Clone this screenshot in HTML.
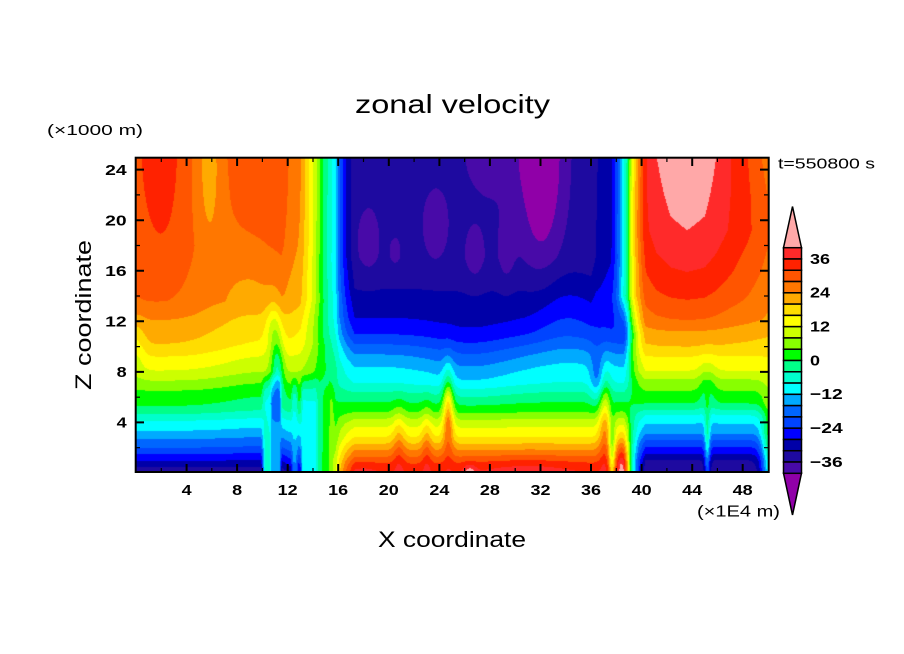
<!DOCTYPE html>
<html><head><meta charset="utf-8">
<style>
html,body{margin:0;padding:0;background:#fff;}
#wrap{position:relative;width:904px;height:654px;overflow:hidden;background:#fff;}
#c{position:absolute;left:136px;top:157px;}
svg{position:absolute;left:0;top:0;}
text{font-family:"Liberation Sans",Arial,sans-serif;fill:#000;}
.b{font-weight:bold;}
</style></head><body>
<div id="wrap">
<canvas id="c" width="632" height="316"></canvas>
<svg width="904" height="654" viewBox="0 0 904 654">
<rect x="135.7" y="157.7" width="633" height="314.3" fill="none" stroke="#000" stroke-width="2"/>
<path stroke="#000" stroke-width="2" fill="none" d="
M186.6 472V464M237.1 472V464M287.7 472V464M338.2 472V464M388.8 472V464M439.4 472V464M489.9 472V464M540.5 472V464M591 472V464M641.6 472V464M692.2 472V464M742.7 472V464
M186.6 158V166M237.1 158V166M287.7 158V166M338.2 158V166M388.8 158V166M439.4 158V166M489.9 158V166M540.5 158V166M591 158V166M641.6 158V166M692.2 158V166M742.7 158V166
M136 422.4H144M136 371.9H144M136 321.3H144M136 270.8H144M136 220.2H144M136 169.6H144
M768 422.4H760M768 371.9H760M768 321.3H760M768 270.8H760M768 220.2H760M768 169.6H760"/>
<path stroke="#000" stroke-width="1.2" fill="none" d="
M161.3 472V468M211.8 472V468M262.4 472V468M313 472V468M363.5 472V468M414.1 472V468M464.6 472V468M515.2 472V468M565.8 472V468M616.3 472V468M666.9 472V468M717.4 472V468
M161.3 158V162M211.8 158V162M262.4 158V162M313 158V162M363.5 158V162M414.1 158V162M464.6 158V162M515.2 158V162M565.8 158V162M616.3 158V162M666.9 158V162M717.4 158V162
M136 447.7H140M136 397.2H140M136 346.6H140M136 296H140M136 245.5H140M136 194.9H140
M768 447.7H764M768 397.2H764M768 346.6H764M768 296H764M768 245.5H764M768 194.9H764"/>
<g class="b" font-size="15">
<text x="181.6" y="495" textLength="10" lengthAdjust="spacingAndGlyphs">4</text>
<text x="232.1" y="495" textLength="10" lengthAdjust="spacingAndGlyphs">8</text>
<text x="277.7" y="495" textLength="20" lengthAdjust="spacingAndGlyphs">12</text>
<text x="328.2" y="495" textLength="20" lengthAdjust="spacingAndGlyphs">16</text>
<text x="378.8" y="495" textLength="20" lengthAdjust="spacingAndGlyphs">20</text>
<text x="429.4" y="495" textLength="20" lengthAdjust="spacingAndGlyphs">24</text>
<text x="479.9" y="495" textLength="20" lengthAdjust="spacingAndGlyphs">28</text>
<text x="530.5" y="495" textLength="20" lengthAdjust="spacingAndGlyphs">32</text>
<text x="581" y="495" textLength="20" lengthAdjust="spacingAndGlyphs">36</text>
<text x="631.6" y="495" textLength="20" lengthAdjust="spacingAndGlyphs">40</text>
<text x="682.2" y="495" textLength="20" lengthAdjust="spacingAndGlyphs">44</text>
<text x="732.7" y="495" textLength="20" lengthAdjust="spacingAndGlyphs">48</text>
<text x="105.2" y="174.9" textLength="21.5" lengthAdjust="spacingAndGlyphs">24</text>
<text x="105.2" y="225.5" textLength="21.5" lengthAdjust="spacingAndGlyphs">20</text>
<text x="105.2" y="276.1" textLength="21.5" lengthAdjust="spacingAndGlyphs">16</text>
<text x="105.2" y="326.6" textLength="21.5" lengthAdjust="spacingAndGlyphs">12</text>
<text x="116.7" y="377.2" textLength="10" lengthAdjust="spacingAndGlyphs">8</text>
<text x="116.7" y="427.7" textLength="10" lengthAdjust="spacingAndGlyphs">4</text>
<text x="810" y="263.8" textLength="20" lengthAdjust="spacingAndGlyphs">36</text>
<text x="810" y="297.6" textLength="20" lengthAdjust="spacingAndGlyphs">24</text>
<text x="810" y="331.5" textLength="20" lengthAdjust="spacingAndGlyphs">12</text>
<text x="810" y="365.3" textLength="10" lengthAdjust="spacingAndGlyphs">0</text>
<text x="810" y="399.1" textLength="32.7" lengthAdjust="spacingAndGlyphs">−12</text>
<text x="810" y="433" textLength="32.7" lengthAdjust="spacingAndGlyphs">−24</text>
<text x="810" y="466.8" textLength="32.7" lengthAdjust="spacingAndGlyphs">−36</text>
</g>
<g stroke="#000" stroke-width="1.5">
<polygon points="783.5,247.7 801.5,247.7 792.5,206.5" fill="#ffa8a8"/>
<polygon points="783.5,473.3 801.5,473.3 792.5,515" fill="#9000a8"/>
<rect x="783.5" y="247.7" width="18" height="11.28" fill="#ff2a2a"/>
<rect x="783.5" y="258.98" width="18" height="11.28" fill="#ff2200"/>
<rect x="783.5" y="270.26" width="18" height="11.28" fill="#ff5500"/>
<rect x="783.5" y="281.54" width="18" height="11.28" fill="#ff7700"/>
<rect x="783.5" y="292.82" width="18" height="11.28" fill="#ffaa00"/>
<rect x="783.5" y="304.1" width="18" height="11.28" fill="#ffdd00"/>
<rect x="783.5" y="315.38" width="18" height="11.28" fill="#ffff00"/>
<rect x="783.5" y="326.66" width="18" height="11.28" fill="#ccff00"/>
<rect x="783.5" y="337.94" width="18" height="11.28" fill="#88ff00"/>
<rect x="783.5" y="349.22" width="18" height="11.28" fill="#00ff00"/>
<rect x="783.5" y="360.5" width="18" height="11.28" fill="#00ff88"/>
<rect x="783.5" y="371.78" width="18" height="11.28" fill="#00ffcc"/>
<rect x="783.5" y="383.06" width="18" height="11.28" fill="#00ffff"/>
<rect x="783.5" y="394.34" width="18" height="11.28" fill="#00aaff"/>
<rect x="783.5" y="405.62" width="18" height="11.28" fill="#0066ff"/>
<rect x="783.5" y="416.9" width="18" height="11.28" fill="#0044ff"/>
<rect x="783.5" y="428.18" width="18" height="11.28" fill="#0000ff"/>
<rect x="783.5" y="439.46" width="18" height="11.28" fill="#0000a8"/>
<rect x="783.5" y="450.74" width="18" height="11.28" fill="#1e0aa0"/>
<rect x="783.5" y="462.02" width="18" height="11.28" fill="#480aa8"/>
</g>
<text x="355" y="113" font-size="26" textLength="195" lengthAdjust="spacingAndGlyphs">zonal velocity</text>
<text x="378" y="547" font-size="22" textLength="148" lengthAdjust="spacingAndGlyphs">X coordinate</text>
<text transform="translate(91,390) rotate(-90)" font-size="22" textLength="150" lengthAdjust="spacingAndGlyphs">Z coordinate</text>
<text x="47" y="135" font-size="14.5" textLength="96" lengthAdjust="spacingAndGlyphs">(×1000 m)</text>
<text x="778" y="168.5" font-size="15" textLength="97" lengthAdjust="spacingAndGlyphs">t=550800 s</text>
<text x="697" y="516.5" font-size="15.5" textLength="83" lengthAdjust="spacingAndGlyphs">(×1E4 m)</text>
</svg>
</div>
<script>
(function(){
var cv=document.getElementById('c');var ctx=cv.getContext('2d');
var NW=632,NH=316;
function pl(p,t){var n=p.length;if(t<=p[0][0])return p[0][1];for(var i=1;i<n;i++){if(t<=p[i][0]){var a=p[i-1],b=p[i];return a[1]+(b[1]-a[1])*(t-a[0])/(b[0]-a[0]);}}return p[n-1][1];}
var WP=[[0,-35],[0.44,-32],[0.96,-28],[1.5,-24],[2,-20],[2.68,-16],[3.34,-12],[4.13,-8],[4.66,-4],[5.3,0],[6.5,4],[7.3,8],[8.1,12],[9.2,16],[10.2,20],[12.1,24],[13.6,28],[18,30.5],[25,31]];
var CP=[[0,35],[0.73,32],[1.26,28],[1.8,24],[2.32,20],[2.85,16],[3.64,12],[4.3,8],[4.83,4],[5.6,0],[6.4,-4],[7.1,-8],[8.4,-12],[9.4,-16],[10.2,-20],[11,-24],[12.3,-28],[14.6,-32],[17,-34.5],[25,-34.8]];
var EP=[[0,-35],[1.0,-32],[1.5,-28],[2.05,-24],[2.6,-20],[3.1,-16],[3.9,-12],[4.56,-8],[5,-4],[5.5,0],[6.5,4],[7.4,8],[8.1,12],[9.2,16],[10,20],[11.2,24],[12.1,28],[13.7,32],[15.9,36],[19.2,40],[25,43]];
var EX=[[39,-18],[39.7,-15],[40,-11],[40.4,-7],[41.2,-3],[42.3,-0.8],[43.6,0],[45,-0.8],[45.9,-3],[47.1,-7],[48.4,-11],[49.5,-15],[50,-17]];
var EFZ=[[9,0],[13,0.35],[16,0.55],[19,0.65],[22,0.8],[25,1]];
var S1=[[11.5,0],[12,0.04],[13,0.1],[14,0.28],[14.8,0.467],[15.8,0.65],[16.1,0.77],[16.6,0.89],[17.3,1]];
var S2T=[[36,0],[36.4,0.04],[37.6,0.1],[38,0.2],[38.4,0.35],[38.9,0.55],[39.2,0.75],[39.6,0.9],[40.1,0.98],[40.3,1]];
var S2L=[[38.6,0],[38.9,0.2],[39.1,0.45],[39.4,0.65],[39.8,0.85],[40.3,1]];
var WT=[[11,0],[14,1]];
var MM=[[9.9,0],[10.2,1],[11.35,1],[11.55,0],[12.25,0],[12.45,0.6],[12.65,0.6],[12.85,0],[13,0],[13.2,1],[15.3,1],[15.8,0]];
var VV=[[10.2,-6],[10.6,-7],[10.75,-14],[11.4,-14],[12.3,-10],[12.7,-10],[13.2,-8],[14.2,-8],[14.5,-1],[15.2,2],[15.5,8],[15.8,10]];
var FM=[[5.5,1],[8,0]];
var B=[
[2.1,25,1.0,4.5,4],[5.8,25,0.6,5,-5],[5.8,24,1.6,6,-4],[9,15,2.2,3.5,-4],[10,9,2.5,4,-3],
[11.2,8.3,0.35,1.8,-13],[0,10,0.5,1.5,-5],[10.9,11.5,0.45,1.6,-8],
[18.4,18.3,0.6,1.8,-4],[20.5,17.5,0.35,0.9,-3],[23.7,19.6,0.7,1.9,-4],[26.8,17.2,0.55,1.6,-4],[29.3,17.6,0.45,2,-4],
[28.5,25,1.8,2.6,-3],[32.05,25,1.12,5.4,-12],[26.5,9,2.5,2.5,-4],
[24.7,5,0.3,2.2,18],[23,2.5,0.3,2,6],[20.8,2.5,0.35,2,6],[26.4,0,0.35,0.5,7],[18,0,1,0.6,3],[31,0,3,0.9,4],
[34,12.5,1.8,2.5,4],[36.5,7.5,0.4,1.5,-8],[37.1,4.5,0.35,2.5,12],[37.65,1,0.2,2.2,-18],[38.4,0.8,0.25,1.5,8],
[45.2,1.5,0.16,2.5,15],[45.2,7,0.45,1.5,-5],[50.1,0.5,0.45,3,25]
];
var HEX=['#480aa8','#1e0aa0','#0000a8','#0000ff','#0044ff','#0066ff','#00aaff','#00ffff','#00ffcc','#00ff88','#00ff00','#88ff00','#ccff00','#ffff00','#ffdd00','#ffaa00','#ff7700','#ff5500','#ff2200','#ff2a2a'];
function rgb(h){return [parseInt(h.substr(1,2),16),parseInt(h.substr(3,2),16),parseInt(h.substr(5,2),16)];}
var COL=HEX.map(rgb),PUR=rgb('#9000a8'),PNK=rgb('#ffa8a8');
var nb=B.length,gx=[],gz=[],i,j,b;
for(b=0;b<nb;b++){var bb=B[b],ax=new Float32Array(NW),az=new Float32Array(NH);
 for(i=0;i<NW;i++){var x=(i+0.5)*50/NW,t=(x-bb[0])/bb[2];ax[i]=Math.exp(-0.5*t*t);}
 for(j=0;j<NH;j++){var z=25-(j+0.5)*25/NH,t2=(z-bb[1])/bb[3];az[j]=Math.exp(-0.5*t2*t2)*bb[4];}
 gx.push(ax);gz.push(az);}
var cs1=new Float32Array(NW),cs2t=new Float32Array(NW),cs2l=new Float32Array(NW),cex=new Float32Array(NW),cmm=new Float32Array(NW),cvv=new Float32Array(NW);
for(i=0;i<NW;i++){var x=(i+0.5)*50/NW;cs1[i]=pl(S1,x);cs2t[i]=pl(S2T,x);cs2l[i]=pl(S2L,x);cex[i]=pl(EX,x);cmm[i]=pl(MM,x);cvv[i]=pl(VV,x);}
var img=ctx.createImageData(NW,NH),d=img.data;
for(j=0;j<NH;j++){
 var z=25-(j+0.5)*25/NH;
 var Wz=pl(WP,z),Cz=pl(CP,z),Ez=pl(EP,z),efz=pl(EFZ,z),fm=pl(FM,z),wt=pl(WT,z);
 for(i=0;i<NW;i++){
  var s1=cs1[i],s2=cs2l[i]*(1-wt)+cs2t[i]*wt;
  var E=Ez+cex[i]*efz;
  var u=Wz*(1-s1)+s1*(Cz*(1-s2)+E*s2);
  var m=cmm[i]*fm;u=u*(1-m)+m*cvv[i];
  for(b=0;b<nb;b++){u+=gx[b][i]*gz[b][j];}
  var c;
  if(u<-40)c=PUR;else if(u>=40)c=PNK;else{var k=Math.floor((u+40)/4);if(k>19)k=19;if(k<0)k=0;c=COL[k];}
  var p=(j*NW+i)*4;d[p]=c[0];d[p+1]=c[1];d[p+2]=c[2];d[p+3]=255;
 }
}
ctx.putImageData(img,0,0);
})();
</script>
</body></html>
